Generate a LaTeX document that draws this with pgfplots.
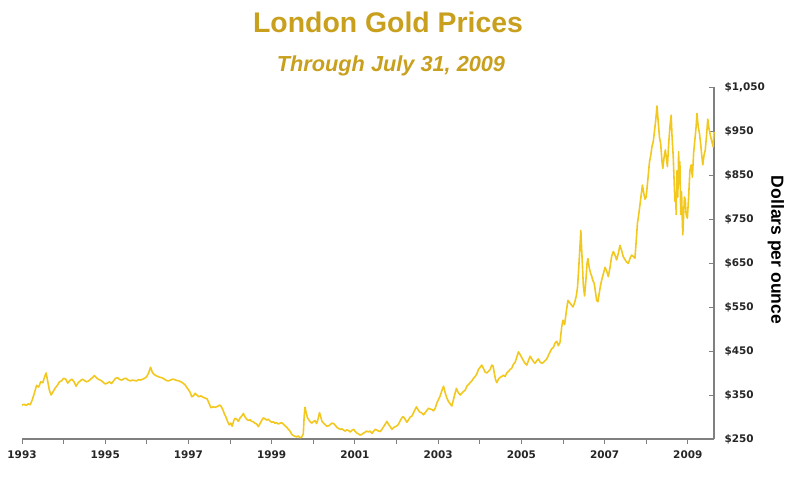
\documentclass[border=0pt]{standalone}
\usepackage{pgfplots}
\pgfplotsset{compat=1.18}
\usepackage{fontspec}
\setmainfont{Liberation Sans}
\newfontfamily\tickfont{DejaVu Sans}
\definecolor{goldline}{RGB}{242,200,30}
\definecolor{goldtitle}{RGB}{200,160,30}
\definecolor{axisgray}{RGB}{128,128,128}
\begin{document}
\begin{tikzpicture}[x=1bp,y=1bp]
\path[use as bounding box] (0,0) rectangle (800,483);
\node[font=\bfseries\fontsize{28.5}{33}\selectfont, text=goldtitle] at (388,461) {London Gold Prices};
\node[font=\bfseries\itshape\fontsize{21.8}{26}\selectfont, text=goldtitle] at (391,417) {Through July 31, 2009};
\node[font=\bfseries\fontsize{17.6}{20}\selectfont, rotate=-90] at (776,233) {Dollars per ounce};
\begin{axis}[
 at={(22bp,44bp)}, anchor=south west,
 scale only axis, width=692bp, height=352bp,
 xmin=1993, xmax=2009.63, ymin=250, ymax=1050,
 axis x line=bottom, axis y line=right,
 axis line style={-, draw=axisgray, line width=1.3pt},
 xtick={1993,1995,...,2009},
 xticklabels={1993,1995,1997,1999,2001,2003,2005,2007,2009},
 minor xtick={1994,1996,...,2008},
 ytick={250,350,...,1050},
 yticklabels={\$250,\$350,\$450,\$550,\$650,\$750,\$850,\$950,{\$1,050}},
 tick align=outside,
 major tick length=5bp, minor tick length=5bp,
 tick style={draw=axisgray, line width=0.9pt},
 every y tick/.append style={xshift=-5bp},
 /pgf/number format/assume math mode=true,
 ticklabel style={font=\tickfont\bfseries\fontsize{10.5}{12}\selectfont, text=black!85},
 xticklabel style={yshift=-3bp},
 yticklabel style={xshift=2bp},
 clip=false,
]
\addplot[goldline, line width=1.6pt, line join=round] table {
1993.00 327
1993.05 329
1993.10 326
1993.15 330
1993.20 328
1993.25 340
1993.30 355
1993.35 372
1993.40 368
1993.45 380
1993.50 378
1993.55 393
1993.58 400
1993.62 380
1993.66 360
1993.70 350
1993.75 358
1993.80 366
1993.85 372
1993.90 380
1993.95 382
1994.00 388
1994.05 386
1994.10 377
1994.15 383
1994.20 386
1994.25 380
1994.30 370
1994.35 378
1994.40 382
1994.45 386
1994.50 383
1994.55 380
1994.60 382
1994.65 386
1994.70 390
1994.74 394
1994.80 388
1994.85 385
1994.90 383
1994.95 379
1995.00 375
1995.05 377
1995.10 380
1995.15 376
1995.20 382
1995.25 388
1995.30 389
1995.35 385
1995.40 384
1995.45 387
1995.50 388
1995.55 384
1995.60 382
1995.65 384
1995.70 383
1995.75 382
1995.80 385
1995.85 384
1995.90 386
1995.95 388
1996.00 392
1996.05 402
1996.09 413
1996.13 402
1996.17 397
1996.22 394
1996.27 392
1996.32 390
1996.37 389
1996.42 386
1996.47 383
1996.52 382
1996.57 384
1996.62 386
1996.67 385
1996.72 383
1996.77 382
1996.82 380
1996.87 377
1996.92 373
1996.96 367
1997.00 362
1997.04 356
1997.08 346
1997.12 348
1997.16 354
1997.20 350
1997.25 346
1997.30 348
1997.35 345
1997.40 343
1997.45 341
1997.50 330
1997.54 321
1997.59 323
1997.64 322
1997.70 324
1997.75 327
1997.78 325
1997.82 318
1997.86 308
1997.90 300
1997.94 290
1997.98 282
1998.02 286
1998.05 279
1998.09 292
1998.12 297
1998.16 295
1998.20 290
1998.24 298
1998.28 302
1998.32 308
1998.36 300
1998.40 295
1998.44 292
1998.48 294
1998.52 290
1998.56 289
1998.60 286
1998.64 284
1998.68 278
1998.72 285
1998.76 292
1998.80 298
1998.84 296
1998.88 293
1998.92 295
1998.96 291
1999.00 288
1999.04 289
1999.08 286
1999.12 287
1999.16 284
1999.20 286
1999.24 287
1999.28 284
1999.32 280
1999.36 277
1999.40 272
1999.44 268
1999.48 261
1999.52 258
1999.56 256
1999.60 255
1999.64 257
1999.68 253
1999.72 254
1999.76 262
1999.78 300
1999.80 322
1999.83 310
1999.86 298
1999.89 294
1999.92 290
1999.96 286
2000.00 289
2000.04 292
2000.08 285
2000.11 294
2000.15 310
2000.18 300
2000.21 290
2000.25 286
2000.29 282
2000.33 279
2000.37 280
2000.41 283
2000.45 286
2000.49 285
2000.53 281
2000.57 276
2000.61 274
2000.65 272
2000.69 273
2000.73 270
2000.77 268
2000.81 271
2000.85 269
2000.89 266
2000.93 270
2000.97 272
2001.00 268
2001.04 264
2001.08 262
2001.12 259
2001.16 260
2001.20 263
2001.24 265
2001.28 268
2001.32 266
2001.36 268
2001.41 263
2001.45 268
2001.49 272
2001.53 270
2001.57 268
2001.61 267
2001.65 272
2001.69 278
2001.73 284
2001.77 290
2001.81 283
2001.85 278
2001.89 272
2001.93 276
2001.97 278
2002.01 280
2002.05 284
2002.09 292
2002.13 298
2002.16 301
2002.20 296
2002.25 288
2002.29 294
2002.33 300
2002.37 302
2002.41 310
2002.45 318
2002.48 323
2002.52 316
2002.56 311
2002.60 310
2002.65 305
2002.69 310
2002.73 315
2002.77 320
2002.81 318
2002.85 317
2002.89 314
2002.93 320
2002.97 332
2003.01 340
2003.05 348
2003.09 360
2003.13 370
2003.17 355
2003.21 343
2003.25 335
2003.29 330
2003.33 325
2003.37 340
2003.41 355
2003.44 365
2003.48 356
2003.53 350
2003.57 354
2003.61 358
2003.65 361
2003.69 370
2003.73 374
2003.77 378
2003.81 382
2003.85 388
2003.89 392
2003.93 398
2003.97 408
2004.01 413
2004.05 418
2004.09 410
2004.13 402
2004.17 400
2004.21 404
2004.25 408
2004.29 418
2004.32 416
2004.35 400
2004.38 385
2004.41 378
2004.45 386
2004.49 390
2004.53 392
2004.57 395
2004.61 392
2004.65 400
2004.69 404
2004.73 408
2004.77 411
2004.81 420
2004.85 424
2004.89 436
2004.93 448
2004.97 442
2005.01 435
2005.05 428
2005.09 422
2005.13 418
2005.17 428
2005.21 438
2005.25 432
2005.29 426
2005.33 422
2005.37 428
2005.41 432
2005.45 425
2005.49 422
2005.53 424
2005.57 428
2005.61 432
2005.65 440
2005.69 448
2005.73 455
2005.77 458
2005.81 468
2005.85 472
2005.89 462
2005.93 470
2005.97 505
2006.00 520
2006.04 510
2006.08 540
2006.12 565
2006.16 560
2006.20 555
2006.24 550
2006.28 560
2006.32 575
2006.35 595
2006.38 640
2006.41 690
2006.43 724
2006.45 680
2006.47 640
2006.49 598
2006.52 575
2006.55 610
2006.58 650
2006.60 660
2006.63 640
2006.66 628
2006.69 620
2006.72 610
2006.75 604
2006.78 585
2006.81 565
2006.84 562
2006.87 580
2006.90 598
2006.93 611
2006.97 625
2007.01 640
2007.05 632
2007.09 619
2007.13 640
2007.17 665
2007.21 676
2007.25 668
2007.29 657
2007.33 672
2007.37 690
2007.41 678
2007.45 664
2007.49 658
2007.53 652
2007.57 649
2007.61 660
2007.65 668
2007.69 665
2007.73 661
2007.76 700
2007.79 740
2007.82 760
2007.85 782
2007.88 805
2007.91 827
2007.94 810
2007.97 795
2008.00 800
2008.04 840
2008.08 880
2008.11 895
2008.14 915
2008.17 926
2008.20 950
2008.23 975
2008.26 1007
2008.29 970
2008.32 935
2008.35 920
2008.38 880
2008.40 865
2008.43 890
2008.46 907
2008.49 885
2008.51 869
2008.54 920
2008.57 960
2008.60 986
2008.62 940
2008.65 892
2008.67 840
2008.69 790
2008.71 810
2008.72 760
2008.74 860
2008.76 800
2008.78 903
2008.79 830
2008.81 880
2008.83 760
2008.85 812
2008.87 740
2008.88 714
2008.90 760
2008.92 800
2008.94 793
2008.96 760
2008.99 752
2009.02 800
2009.05 860
2009.08 873
2009.11 845
2009.14 900
2009.17 930
2009.20 960
2009.22 990
2009.25 960
2009.28 945
2009.31 920
2009.34 890
2009.36 873
2009.39 895
2009.42 907
2009.45 940
2009.48 977
2009.51 955
2009.55 937
2009.58 925
2009.61 914
2009.63 948
};
\end{axis}
\end{tikzpicture}
\end{document}
